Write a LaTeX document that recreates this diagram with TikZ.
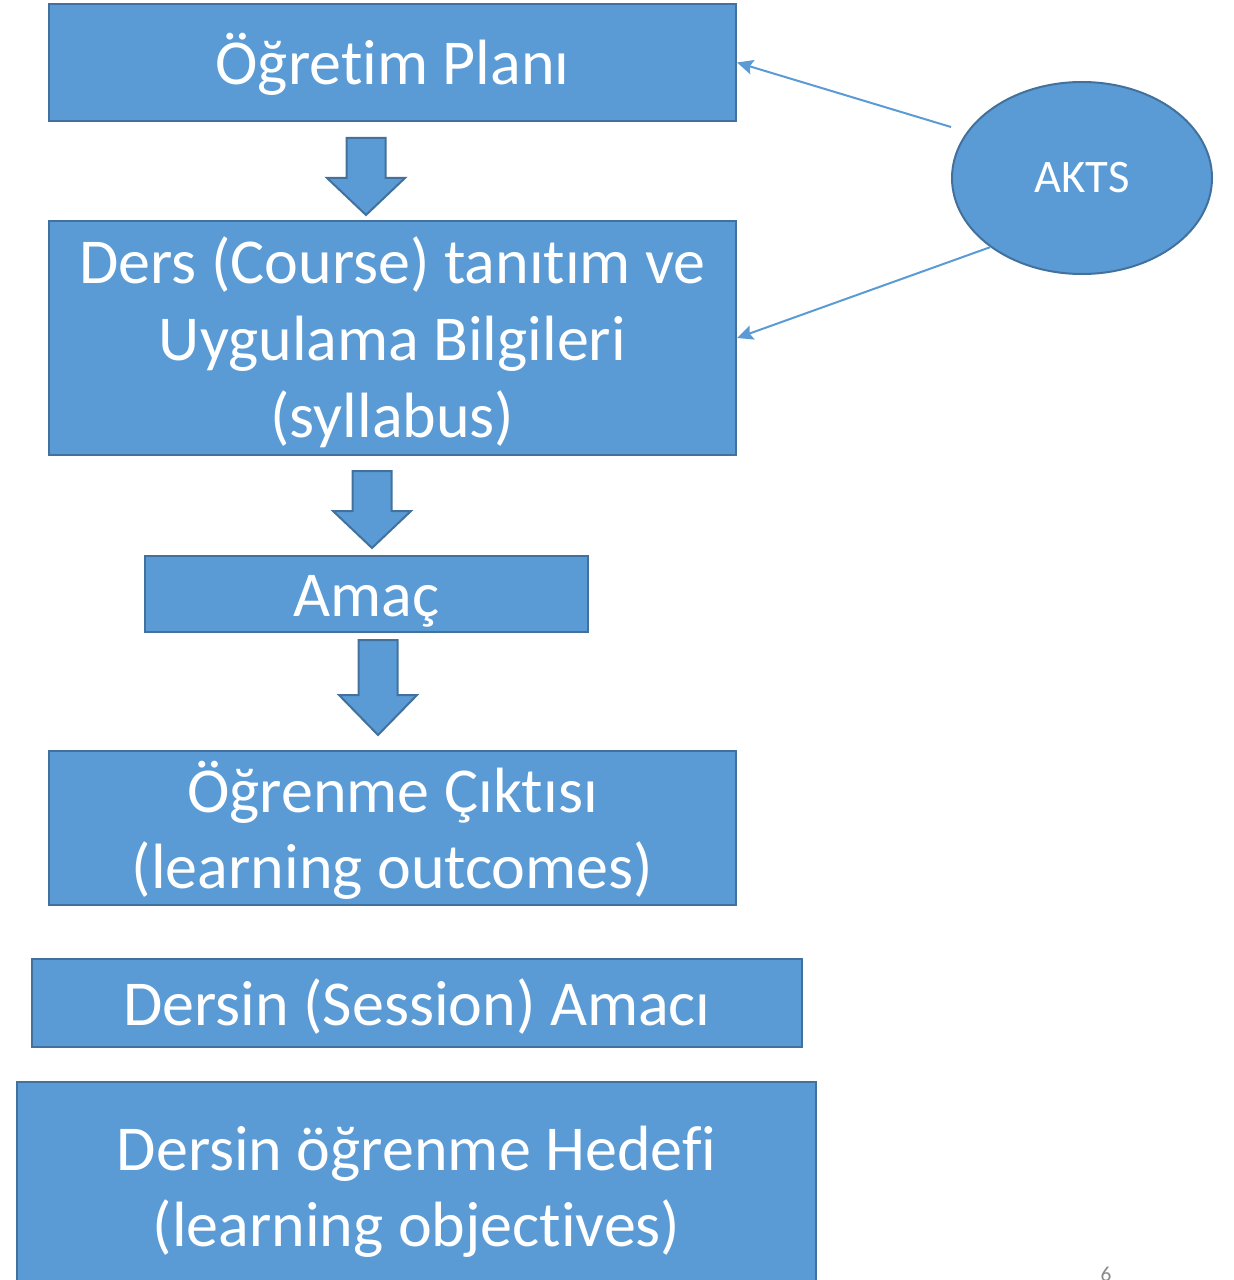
\documentclass[tikz,border=0pt]{standalone}
\usepackage{fontspec}
\setmainfont[Ligatures=NoCommon]{Carlito}
\usepackage{tikz}
\usetikzlibrary{arrows.meta, calc, shapes.geometric}

\definecolor{boxblue}{HTML}{5B9BD5}
\definecolor{boxedge}{HTML}{41719C}
\definecolor{pagenum}{HTML}{898989}

% potpornice za prvi i zadnji redak teksta u kutiji
\newcommand{\lstop}{\rule{0pt}{45.5pt}}
\newcommand{\lsbot}{\rule[-12pt]{0pt}{12pt}}

% blok strelica prema dolje: x-sredina, vrh, pocetak glave, vrh glave
\newcommand{\blockarrow}[4]{
    \draw[arrowbody] (#1-19.5,#2) -- (#1+19.5,#2) -- (#1+19.5,#3) -- (#1+39,#3)
        -- (#1,#4) -- (#1-39,#3) -- (#1-19.5,#3) -- cycle;
}

\begin{document}
\begin{tikzpicture}[x=0.75pt, y=-0.75pt,
        box/.style 2 args={draw=boxedge, fill=boxblue, line width=1.5pt, text=white,
            minimum width=#1, minimum height=#2,
            align=center, inner sep=0pt, font=\fontsize{48}{57.5}\selectfont},
        arrowbody/.style={draw=boxedge, fill=boxblue, line width=1.5pt, line join=miter},
        link/.style={draw=boxblue, line width=1.5pt, -{Stealth[length=12pt, width=11pt, inset=2pt]}}]
        % Okvir slike
        \useasboundingbox (0,0) rectangle (1233,1280);

        % Kutije
        \node[box={515.25pt}{87.75pt}] (plan) at (392.5,62.5) {\lstop Öğretim Planı\lsbot};
        \node[box={515.25pt}{175.5pt}] (syllabus) at (392.5,338)
            {\lstop Ders (Course) tanıtım ve\\Uygulama Bilgileri\\(syllabus)\lsbot};
        \node[box={332.25pt}{57pt}] (amac) at (366.5,594) {\lstop Amaç\lsbot};
        \node[box={515.25pt}{115.5pt}] (outcomes) at (392.5,828)
            {\lstop Öğrenme Çıktısı\\(learning outcomes)\lsbot};
        \node[box={577.5pt}{66pt}] (session) at (417,1003)
            {\lstop Dersin (Session) Amacı\lsbot};
        \node[box={599.25pt}{156pt}] (objectives) at (416.5,1186)
            {\lstop Dersin öğrenme Hedefi\\(learning objectives)\lsbot};

        % AKTS elipsa
        \node[ellipse, draw=boxedge, fill=boxblue, line width=1.5pt, text=white,
            minimum width=195pt, minimum height=144pt, inner sep=0pt,
            font=\fontsize{35}{42}\selectfont] (akts) at (1082,178) {AKTS};

        % Blok strelice
        \blockarrow{366}{138}{178}{215}
        \blockarrow{372}{471}{511}{548}
        \blockarrow{378}{640}{695}{735}

        % Veze od AKTS
        \coordinate (aktsup) at ($(akts.west)+(0,-51)$);
        \draw[link] (aktsup) -- (plan.east);
        \draw[link] (akts.217) -- (syllabus.east);

        % Broj slajda
        \node[anchor=north, inner sep=0pt, text=pagenum, font=\fontsize{16}{19}\selectfont]
            (slidenum) at (1106,1267) {6};
    \end{tikzpicture}
\end{document}
